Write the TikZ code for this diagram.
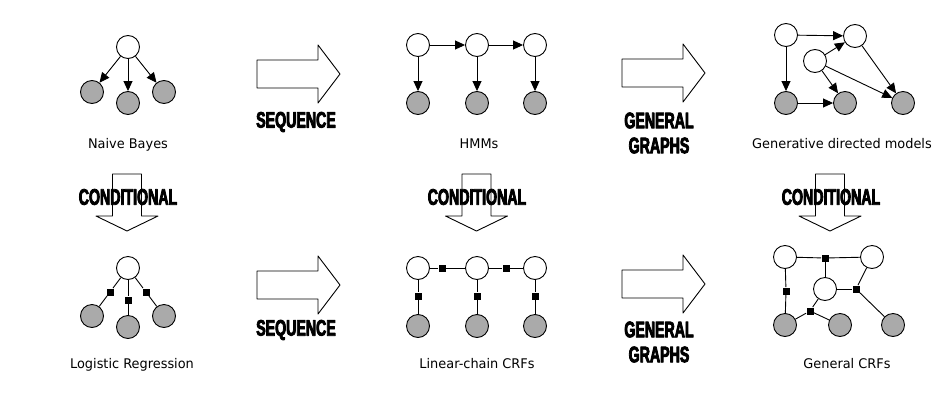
\documentclass[tikz,border=0pt]{standalone}
\usepackage{fontspec}
\setmainfont{DejaVu Sans}[FakeStretch=0.97]
\newfontfamily\bannerfont{Liberation Sans}[FakeStretch=0.63,FakeBold=3.5]
\usetikzlibrary{arrows.meta}
\definecolor{obsgray}{RGB}{170,170,170}
\tikzset{
  hid/.style={circle,draw,fill=white,minimum size=23pt,inner sep=0pt},
  obs/.style={hid,fill=obsgray},
  fac/.style={rectangle,fill=black,minimum size=7pt,inner sep=0pt},
  lab/.style={anchor=base,font=\fontsize{13.3}{15}\selectfont},
  banner/.style={font=\bannerfont\bfseries\fontsize{22.5}{25}\selectfont,align=center},
  rarrow/.pic={\draw[fill=white] (0,-14)--(61,-14)--(61,-29)--(83,0)--(61,29)--(61,14)--(0,14)--cycle;},
  darrow/.pic={\draw[fill=white] (-14.5,0)--(-14.5,42)--(-31,42)--(0,57)--(31,42)--(14.5,42)--(14.5,0)--cycle;}
}
\begin{document}
\begin{tikzpicture}[x=1pt,y=-1pt,line width=0.9pt,line join=round,>={Triangle[length=10pt,width=9pt]}]
\useasboundingbox (0,0) rectangle (947,407);
% block arrows
\pic at (257,74) {rarrow}; \pic at (622,73) {rarrow};
\pic at (257,285) {rarrow}; \pic at (622,284) {rarrow};
\pic at (127,174) {darrow}; \pic at (476.5,174) {darrow}; \pic at (830,174) {darrow};
\node[banner] (seqtop) at (296,122) {SEQUENCE};
\node[banner] (seqbot) at (296,330) {SEQUENCE};
\node[banner] (gentop) at (659,133) {GENERAL\\GRAPHS};
\node[banner] (genbot) at (659,342) {GENERAL\\GRAPHS};
\node[banner] (cond1) at (128,197) {CONDITIONAL};
\node[banner] (cond2) at (477,197) {CONDITIONAL};
\node[banner] (cond3) at (831,197) {CONDITIONAL};
% naive bayes
\node[hid] (nby) at (128,47) {};
\node[obs] (nbx1) at (92,92) {};
\node[obs] (nbx2) at (128,103) {};
\node[obs] (nbx3) at (164,92) {};
\foreach \i in {1,2,3} \draw[->] (nby) -- (nbx\i);
\node[lab] (nblab) at (128,148) {Naive Bayes};
% hmm
\foreach \i/\x in {1/418,2/477,3/535}{
  \node[hid] (hy\i) at (\x,45) {};
  \node[obs] (hx\i) at (\x,103) {};
  \draw[->] (hy\i) -- (hx\i);
}
\draw[->] (hy1) -- (hy2); \draw[->] (hy2) -- (hy3);
\node[lab] (hmmlab) at (479,148) {HMMs};
% generative directed models
\node[hid] (ga) at (786,35) {};
\node[hid] (gb) at (855,36) {};
\node[hid] (gc) at (815,61) {};
\node[obs] (gd) at (786,103) {};
\node[obs] (ge) at (845,103) {};
\node[obs] (gf) at (903,103) {};
\draw[->] (ga) -- (gb); \draw[->] (ga) -- (gd); \draw[->] (gc) -- (gb);
\draw[->] (gc) -- (ge); \draw[->] (gc) -- (gf); \draw[->] (gb) -- (gf);
\draw[->] (gd) -- (ge);
\node[lab] (gdmlab) at (842,148) {Generative directed models};
% logistic regression
\node[hid] (ly) at (128,268) {};
\node[obs] (lx1) at (92,316) {};
\node[obs] (lx2) at (128,327) {};
\node[obs] (lx3) at (164,316) {};
\node[fac] (lf1) at (110,292) {};
\node[fac] (lf2) at (128,300) {};
\node[fac] (lf3) at (146,292) {};
\foreach \i in {1,2,3} \draw (ly) -- (lf\i) -- (lx\i);
\node[lab] (lrlab) at (132,368) {Logistic Regression};
% linear-chain crf
\foreach \i/\x in {1/418,2/477,3/535}{
  \node[hid] (cy\i) at (\x,268) {};
  \node[obs] (cx\i) at (\x,326) {};
  \node[fac] (cv\i) at (\x,296) {};
  \draw (cy\i) -- (cv\i) -- (cx\i);
}
\node[fac] (ch1) at (442,268) {};
\node[fac] (ch2) at (506,268) {};
\draw (cy1) -- (ch1) -- (cy2) -- (ch2) -- (cy3);
\node[lab] (lclab) at (477,368) {Linear-chain CRFs};
% general crf
\node[hid] (ca) at (785,257) {};
\node[hid] (cb) at (872,257) {};
\node[hid] (cc) at (825,289) {};
\node[obs] (cd) at (785,325) {};
\node[obs] (ce) at (840,325) {};
\node[obs] (cf) at (893,325) {};
\node[fac] (cf1) at (825,258) {};
\node[fac] (cf2) at (786,291) {};
\node[fac] (cf3) at (856,289) {};
\node[fac] (cf4) at (810,311) {};
\draw (ca) -- (cf1) -- (cb); \draw (cf1) -- (cc);
\draw (ca) -- (cf2) -- (cd);
\draw (cc) -- (cf3); \draw (cb) -- (cf3) -- (cf);
\draw (cc) -- (cf4); \draw (cd) -- (cf4) -- (ce);
\node[lab] (gclab) at (847,368) {General CRFs};
\end{tikzpicture}
\end{document}
